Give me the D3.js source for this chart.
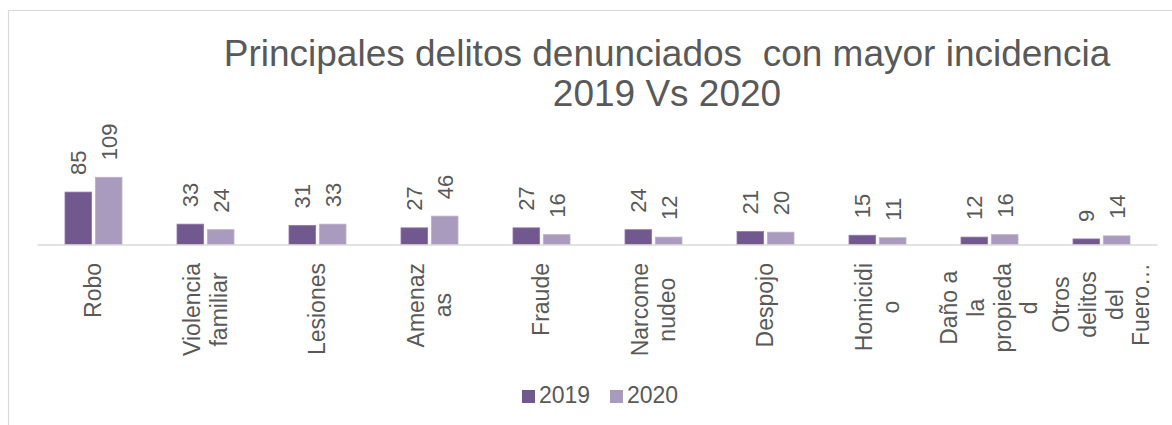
<!DOCTYPE html>
<html>
<head>
<meta charset="utf-8">
<script src="https://cdn.jsdelivr.net/npm/d3@7"></script>
<style>
  html, body { margin: 0; padding: 0; background: #fff; }
  svg { display: block; font-family: Arial, "Liberation Sans", sans-serif; }
</style>
</head>
<body>
<svg id="chart" width="1172" height="425"></svg>
<script>
// ---- data ----
const categories = ["Robo", "Violencia familiar", "Lesiones", "Amenazas", "Fraude",
  "Narcomenudeo", "Despojo", "Homicidio", "Daño a la propiedad", "Otros delitos del Fuero Común"];
const categoryLines = [
  ["Robo"], ["Violencia", "familiar"], ["Lesiones"], ["Amenaz", "as"], ["Fraude"],
  ["Narcome", "nudeo"], ["Despojo"], ["Homicidi", "o"], ["Daño a", "la", "propieda", "d"],
  ["Otros", "delitos", "del", "Fuero…"]
];
const seriesNames = ["2019", "2020"];
const values2019 = [85, 33, 31, 27, 27, 24, 21, 15, 12, 9];
const values2020 = [109, 24, 33, 46, 16, 12, 20, 11, 16, 14];
const titleLines = ["Principales delitos denunciados  con mayor incidencia", "2019 Vs 2020"];

const colors = ["#71588f", "#a99bbd"];
const textColor = "#595959";

const svg = d3.select("#chart");

// chart border
svg.append("path")
  .attr("d", "M8.5,425 L8.5,10.5 L1172,10.5")
  .attr("fill", "none").attr("stroke", "#d9d9d9").attr("stroke-width", 1.2);

// scales
const x0 = d3.scaleBand().domain(d3.range(categories.length)).range([37, 1157]).paddingInner(0).paddingOuter(0);
const x1 = d3.scaleBand().domain(seriesNames).range([28, 85]).paddingInner(0.12).paddingOuter(0);
const y = d3.scaleLinear().domain([0, 120]).range([244.5, 244.5 - 74]);

const series = [values2019, values2020];

// bars
const g = svg.append("g");
series.forEach((vals, si) => {
  g.selectAll(".bar" + si).data(vals).enter().append("rect")
    .attr("x", (d, i) => x0(i) + x1(seriesNames[si]))
    .attr("y", d => y(d))
    .attr("width", x1.bandwidth())
    .attr("height", d => y(0) - y(d))
    .attr("fill", colors[si])
    .attr("stroke", si === 0 ? "#8e7aa6" : "#bcb0cc")
    .attr("stroke-width", 0.8);
});

// axis line
const axis = d3.axisBottom(x0).tickSize(0).tickFormat("");
const axG = svg.append("g").attr("transform", `translate(0,${y(0)})`).call(axis);
axG.select(".domain").attr("stroke", "#d9d9d9").attr("stroke-width", 1.5);

// data labels
series.forEach((vals, si) => {
  g.selectAll(".lbl" + si).data(vals).enter().append("text")
    .attr("transform", (d, i) => {
      const cx = x0(i) + x1(seriesNames[si]) + x1.bandwidth() / 2;
      return `translate(${cx},${y(d) - 17}) rotate(-90)`;
    })
    .attr("dy", "0.36em")
    .attr("text-anchor", "start")
    .attr("fill", textColor)
    .attr("font-size", 22)
    .text(d => d);
});

// category labels (rotated, wrapped)
const pitch = 26.6;
categoryLines.forEach((lines, i) => {
  const cx = x0(i) + x0.bandwidth() / 2;
  const grp = svg.append("g");
  const texts = lines.map((ln, j) => grp.append("text")
    .attr("font-size", 23).attr("fill", textColor)
    .attr("text-anchor", "middle").attr("dy", "0.36em")
    .text(ln));
  const maxLen = d3.max(texts, t => t.node().getComputedTextLength());
  const cy = 263 + maxLen / 2;
  texts.forEach((t, j) => {
    const lx = cx + (j - (lines.length - 1) / 2) * pitch;
    t.attr("transform", `translate(${lx},${cy}) rotate(-90)`);
  });
});

// title
const title = svg.append("text").attr("text-anchor", "middle")
  .attr("fill", textColor).attr("font-size", 37)
  .style("white-space", "pre");
titleLines.forEach((t, i) => {
  title.append("tspan").attr("x", 667).attr("y", 66 + i * 40).text(t);
});

// legend
const legend = svg.append("g");
const legX = [522, 610];
seriesNames.forEach((s, i) => {
  legend.append("rect").attr("x", legX[i]).attr("y", 390).attr("width", 13).attr("height", 13)
    .attr("fill", colors[i]);
  legend.append("text").attr("x", legX[i] + 17).attr("y", 403)
    .attr("fill", textColor).attr("font-size", 23).text(s);
});
</script>
</body>
</html>
